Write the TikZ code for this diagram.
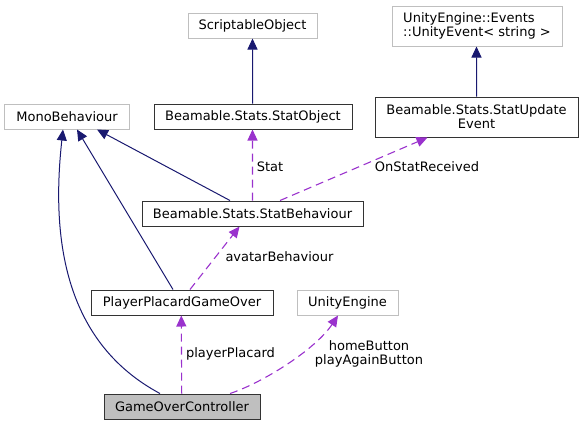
\documentclass[tikz,border=0pt]{standalone}
\usepackage{fontspec}
\setmainfont{DejaVu Sans}
\usetikzlibrary{arrows.meta}
\definecolor{navy}{HTML}{191970}
\definecolor{purp}{HTML}{9A32CD}
\definecolor{extgray}{HTML}{BFBFBF}
\begin{document}
\begin{tikzpicture}[x=1bp,y=-1bp,
  box/.style={draw=black!80,line width=1bp,fill=white,inner sep=0pt,minimum height=25bp,font=\fontsize{13bp}{14bp}\selectfont},
  extbox/.style={box,draw=extgray},
  inh/.style={draw=navy,line width=1bp,-{Triangle[length=11bp,width=10bp]}},
  use/.style={draw=purp,line width=1.1bp,dash pattern=on 8bp off 5bp,-{Triangle[length=11bp,width=10bp]}},
  lbl/.style={font=\fontsize{13bp}{14bp}\selectfont,inner sep=0pt,align=center}]
\useasboundingbox (0,0) rectangle (583,425);
% nodes
\node[extbox,minimum width=129bp] (so) at (252.5,25.5) {ScriptableObject};
\node[extbox,minimum width=170bp,minimum height=40bp,align=left] (ue) at (477,26) {UnityEngine::Events\\::UnityEvent< string >};
\node[extbox,minimum width=124bp] (mono) at (67,116.5) {MonoBehaviour};
\node[box,minimum width=198bp] (sobj) at (253,116.5) {Beamable.Stats.StatObject};
\node[box,minimum width=203bp,minimum height=40bp,align=center] (sue) at (476.5,117) {Beamable.Stats.StatUpdate\\Event};
\node[box,minimum width=221bp] (sb) at (252.5,213.5) {Beamable.Stats.StatBehaviour};
\node[box,minimum width=182bp] (ppgo) at (182,302.5) {PlayerPlacardGameOver};
\node[extbox,minimum width=101bp] (uen) at (347.5,302.5) {UnityEngine};
\node[box,minimum width=156bp,fill=extgray] (goc) at (182,406.5) {GameOverController};
% inheritance
\draw[inh] ([xshift=-0.5bp]sobj.north) -- (so.south);
\draw[inh] (sue.north) -- ([xshift=-0.5bp]ue.south);
\draw[inh] ([xshift=-22.5bp]sb.north) -- ([xshift=30bp]mono.south);
\draw[inh] ([xshift=-9bp]ppgo.north) -- ([xshift=10bp]mono.south);
\draw[inh] ([xshift=-22bp]goc.north) .. controls (60,340) and (52,230) .. ([xshift=-4bp]mono.south);
% usage
\draw[use] (sb.north) -- ([xshift=-0.5bp]sobj.south);
\node[lbl] (lstat) at (270,167) {Stat};
\draw[use] ([xshift=27.5bp]sb.north) -- ([xshift=-49bp]sue.south);
\node[lbl] (lon) at (427,167) {OnStatReceived};
\draw[use] ([xshift=8bp]ppgo.north) -- ([xshift=-13bp]sb.south);
\node[lbl] (lav) at (279.5,257) {avatarBehaviour};
\draw[use] ([xshift=-0.3bp]goc.north) -- ([xshift=-0.7bp]ppgo.south);
\node[lbl] (lpp) at (230.5,354) {playerPlacard};
\draw[use] ([xshift=48bp]goc.north) .. controls (262,383) and (315,350) .. ([xshift=-9.5bp]uen.south);
\node[lbl] (lhb) at (369,353.5) {homeButton\\playAgainButton};
\end{tikzpicture}
\end{document}
